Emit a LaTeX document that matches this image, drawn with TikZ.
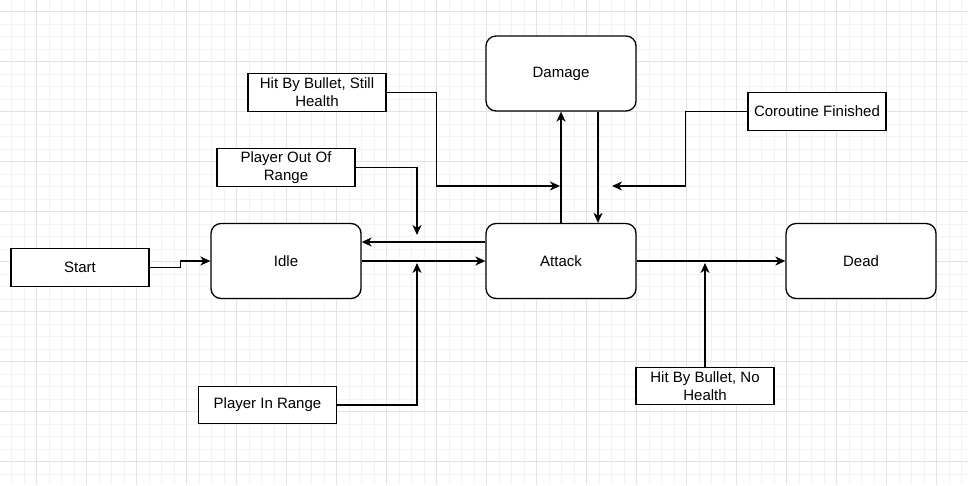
\documentclass[tikz,border=0pt]{standalone}
\usepackage{fontspec}
\setmainfont{Liberation Sans}
\usetikzlibrary{arrows.meta}

\tikzset{
  state/.style={draw, rounded corners=10pt, minimum width=150pt, minimum height=75pt, line width=1.3pt},
  event/.style={draw, minimum width=138pt, minimum height=37.5pt, align=center, line width=1.3pt, inner sep=2pt},
  edge/.style={-{Stealth[length=10pt, width=9pt, inset=3pt]}, line width=1.3pt},
  minorgrid/.style={draw=black!5, line width=1pt},
  majorgrid/.style={draw=black!11, line width=1pt},
}

\begin{document}
\begin{tikzpicture}[x=1pt, y=-1pt, font=\fontsize{15}{18}\selectfont]

\useasboundingbox[fill=white] (0,0) rectangle (968,485);

% background grid
\foreach \i in {0,...,76} \draw[minorgrid] (11.7+12.5*\i,0) -- (11.7+12.5*\i,485);
\foreach \i in {0,...,37} \draw[minorgrid] (0,11.7+12.5*\i) -- (968,11.7+12.5*\i);
\foreach \i in {0,...,18} \draw[majorgrid] (36.7+50*\i,0) -- (36.7+50*\i,485);
\foreach \i in {0,...,9} \draw[majorgrid] (0,11.7+50*\i) -- (968,11.7+50*\i);

% states
\node[state, fill=white] (idle) at (286,261) {Idle};
\node[state, fill=white] (attack) at (561,261) {Attack};
\node[state, fill=white] (damage) at (561,73.5) {Damage};
\node[state, fill=white] (dead) at (861,261) {Dead};

% events
\node[event, fill=white] (start) at (80,267.5) {Start};
\node[event, fill=white] (hitstill) at (317,92.5) {Hit By Bullet, Still\\Health};
\node[event, fill=white] (outrange) at (286,167.5) {Player Out Of\\Range};
\node[event, fill=white] (corout) at (817,111.5) {Coroutine Finished};
\node[event, fill=white] (inrange) at (267.5,405) {Player In Range};
\node[event, fill=white] (hitno) at (705,386) {Hit By Bullet, No\\Health};

\path
(560,186) coordinate (intodamage)
(612,186) coordinate (outofdamage)
(417,235) coordinate (leaveidle)
(417,263) coordinate (enterattack)
(705,263) coordinate (enterdead)
;

% transitions
\draw[edge] (start.east) -- ++(31,0) |- (idle.west);
\draw[edge] (idle.east) -- (attack.west);
\draw[edge] ([yshift=19pt]attack.west) -- ([yshift=19pt]idle.east);
\draw[edge] (attack.north) -- (damage.south);
\draw[edge] ([xshift=37pt]damage.south) -- ([xshift=37pt]attack.north);
\draw[edge] (attack.east) -- (dead.west);

% triggers
\draw[edge] (hitstill.east) -- ++(50,0) |- (intodamage);
\draw[edge] (corout.west) -- ++(-62,0) |- (outofdamage);
\draw[edge] (outrange.east) -| (leaveidle);
\draw[edge] (inrange.east) -| (enterattack);
\draw[edge] (hitno.north) -- (enterdead);

\end{tikzpicture}
\end{document}
